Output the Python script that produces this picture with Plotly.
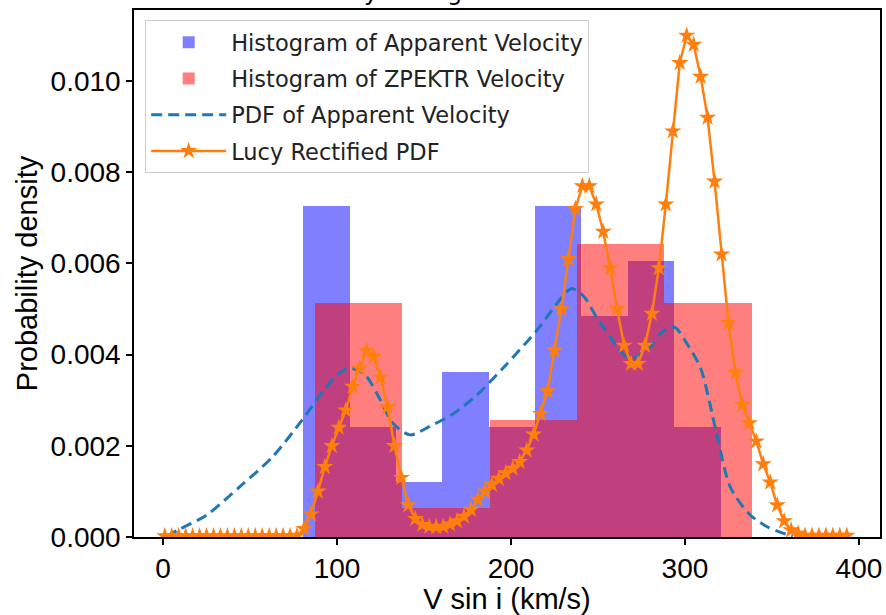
import plotly.graph_objects as go

# ---- Histogram of apparent velocity (9 bins) ----
app_edges = [80.5, 107.2, 133.8, 160.5, 187.2, 213.8, 240.5, 267.2, 293.8, 320.5]
app_density = [0.00726, 0.00242, 0.00121, 0.00363, 0.00242, 0.00726, 0.00484, 0.00605, 0.00242]

# ---- Histogram of ZPEKTR velocity (5 bins) ----
zp_edges = [87.4, 137.6, 187.8, 238.0, 288.2, 338.4]
zp_density = [0.00514, 0.00064, 0.00257, 0.00643, 0.00514]

# ---- PDF of apparent velocity ----
pdf_v = [2, 10, 25, 44, 63, 80, 92, 100, 106, 112, 117, 125, 132, 142, 153, 167,
         180, 196, 215, 228, 235, 242, 249, 257, 264, 270, 280, 287, 294, 301,
         309, 318, 326, 337, 347, 355, 362]
pdf_y = [0.00002, 0.00018, 0.00048, 0.0011, 0.00176, 0.00257, 0.0032, 0.00355,
         0.0037, 0.00366, 0.00352, 0.0030, 0.0025, 0.00224, 0.00242, 0.00271,
         0.0031, 0.00373, 0.00454, 0.0052, 0.00545, 0.00527, 0.00483, 0.00439,
         0.00403, 0.00392, 0.00417, 0.0045, 0.0046, 0.00425, 0.0037, 0.0023,
         0.0011, 0.0005, 0.00023, 0.0001, 0.00002]

# ---- Lucy rectified PDF ----
lucy_v = [1, 5, 9, 13, 17, 21, 25, 29, 33, 37, 41, 45, 49, 53, 57, 61, 65, 69, 73, 77,
          81, 85, 89, 93, 97, 101, 105, 109, 113, 117, 121, 125, 129, 133, 137, 141,
          145, 149, 153, 157, 161, 165, 169, 173, 177, 181, 185, 189, 193, 197, 201,
          205, 209, 213, 217, 221, 225, 229, 233, 237, 241, 245, 249, 253, 257, 261,
          265, 269, 273, 277, 281, 285, 289, 293, 297, 301, 305, 309, 313, 317, 321,
          325, 329, 333, 337, 341, 345, 349, 353, 357, 361, 365, 369, 373, 377, 381,
          385, 389, 393]
lucy_y = [0.00002, 0.00002, 0.00002, 0.00002, 0.00002, 0.00002, 0.00002, 0.00002,
          0.00002, 0.00002, 0.00002, 0.00002, 0.00002, 0.00002, 0.00002, 0.00002,
          0.00002, 0.00002, 0.00002, 0.00003,
          0.00018, 0.0005, 0.001, 0.00154, 0.002, 0.0024, 0.00278, 0.0033, 0.0037,
          0.00409, 0.00395, 0.0035, 0.00285, 0.002, 0.0013, 0.0007,
          0.0004, 0.00027, 0.00023, 0.00022, 0.00023, 0.00028, 0.00035, 0.00045,
          0.0006, 0.00082, 0.001, 0.00115, 0.00128, 0.0014, 0.0015,
          0.00165, 0.0019, 0.00225, 0.0027, 0.0032, 0.0041, 0.005, 0.0061, 0.0072,
          0.0077, 0.0077, 0.0073, 0.0067, 0.0059, 0.005,
          0.0042, 0.0038, 0.0038, 0.0042, 0.0049, 0.0059, 0.0073, 0.0089, 0.0104,
          0.0110, 0.0108, 0.0101, 0.0092, 0.0078, 0.0062,
          0.0047, 0.0036, 0.0029, 0.0025, 0.0021, 0.0016, 0.0012, 0.0007, 0.00035,
          0.00015, 0.00008, 0.00003, 0.00003, 0.00003, 0.00003,
          0.00003, 0.00003, 0.00003]

x_ticks = [0, 100, 200, 300, 400]
y_ticks = [0.000, 0.002, 0.004, 0.006, 0.008, 0.010]

title_text = "Velocity Histogram and Rectified PDF"

legend_font = "DejaVu Sans"
axis_font = "Liberation Sans"

fig = go.Figure()

fig.add_trace(go.Bar(
    x=app_edges[:-1],
    y=app_density,
    width=[b - a for a, b in zip(app_edges[:-1], app_edges[1:])],
    offset=0,
    marker=dict(color="rgba(0,0,255,0.5)", line=dict(width=0)),
    name="Histogram of Apparent Velocity", legendgroup="g1",
))
fig.add_trace(go.Bar(
    x=zp_edges[:-1],
    y=zp_density,
    width=[b - a for a, b in zip(zp_edges[:-1], zp_edges[1:])],
    offset=0,
    marker=dict(color="rgba(255,0,0,0.5)", line=dict(width=0)),
    name="Histogram of ZPEKTR Velocity", legendgroup="g2",
))
fig.add_trace(go.Scatter(
    x=pdf_v, y=pdf_y, mode="lines",
    line=dict(color="#1f77b4", width=3, dash="11px,6px", shape="spline", smoothing=0.8),
    name="PDF of Apparent Velocity", legendgroup="g3",
))
fig.add_trace(go.Scatter(
    x=lucy_v, y=lucy_y, mode="lines+markers",
    line=dict(color="#ff7f0e", width=2.5),
    marker=dict(symbol="star", size=13, color="#ff7f0e"),
    name="Lucy Rectified PDF", legendgroup="g4",
))

fig.add_annotation(
    text=title_text, xref="paper", yref="paper", x=0.5, y=1.0341,
    xanchor="center", yanchor="middle", showarrow=False,
    font=dict(family=legend_font, size=24, color="black"),
)

fig.update_layout(
    width=886, height=615,
    margin=dict(l=134, r=6, t=10, b=78, autoexpand=False),
    paper_bgcolor="white", plot_bgcolor="white",
    barmode="overlay", bargap=0,
    showlegend=True,
    legend=dict(
        x=0.015, y=0.981, xanchor="left", yanchor="top",
        bgcolor="rgba(255,255,255,0.8)", bordercolor="#cccccc", borderwidth=1,
        font=dict(family=legend_font, size=22.5, color="#222222"),
        itemwidth=75, tracegroupgap=4,
    ),
    xaxis=dict(
        range=[-16.7, 412.1], tickvals=x_ticks, ticktext=[str(v) for v in x_ticks],
        showline=True, linecolor="black", linewidth=1.5, mirror=True,
        ticks="outside", ticklen=6, tickwidth=1.5, tickcolor="black",
        showgrid=False, zeroline=False, automargin=False,
        tickfont=dict(family=axis_font, size=28, color="black"),
        title=dict(text="V sin i (km/s)", standoff=4,
                   font=dict(family=axis_font, size=29, color="black")),
    ),
    yaxis=dict(
        range=[0, 0.01156], tickvals=y_ticks, ticktext=[f"{v:.3f}" for v in y_ticks],
        showline=True, linecolor="black", linewidth=1.5, mirror=True,
        ticks="outside", ticklen=6, tickwidth=1.5, tickcolor="black",
        showgrid=False, zeroline=False, automargin=False,
        tickfont=dict(family=axis_font, size=28, color="black"),
        title=dict(text="Probability density", standoff=4,
                   font=dict(family=axis_font, size=29, color="black")),
    ),
)

fig.write_html("out.html", config={"displayModeBar": False},
               post_script="document.body.style.margin='0';")
